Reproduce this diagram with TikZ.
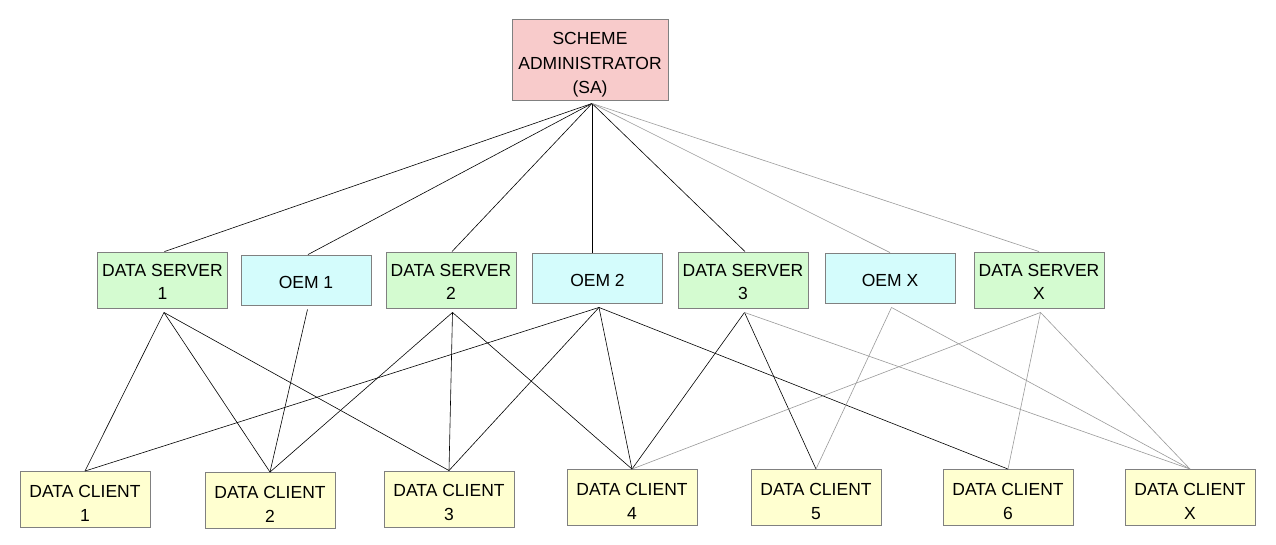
\documentclass[tikz,border=0pt]{standalone}
\usepackage{fontspec}
\setmainfont{Liberation Sans}
\definecolor{sapink}{HTML}{F8CBCB}
\definecolor{dsgreen}{HTML}{D4FBD0}
\definecolor{oemcyan}{HTML}{D4FCFC}
\definecolor{dcyellow}{HTML}{FFFFD0}
\definecolor{boxline}{HTML}{808080}
\definecolor{greyline}{HTML}{9A9A9A}
\begin{document}
\begin{tikzpicture}[x=1pt,y=-1pt,
  box/.style={draw=boxline,line width=0.9pt,rectangle,inner sep=0pt,minimum width=130pt},
  txt/.style={align=center,inner sep=0pt,font=\fontsize{17.5}{24}\selectfont},
  dstxt/.style={txt,font=\fontsize{17.5}{23}\selectfont},
  satxt/.style={txt,font=\fontsize{17.5}{24.5}\selectfont},
  sabox/.style={box,fill=sapink,minimum width=156pt,minimum height=81pt},
  dsbox/.style={box,fill=dsgreen,minimum height=56pt},
  oembox/.style={box,fill=oemcyan,minimum height=50pt},
  dcbox/.style={box,fill=dcyellow,minimum height=56pt},
  link/.style={draw=black,line width=0.6pt},
  glink/.style={draw=greyline,line width=0.6pt}]
\useasboundingbox[fill=white] (0,0) rectangle (1276,544);
% boxes
\node[sabox] (sa) at (590,59.5) {};
\node[satxt] (satext) at ([yshift=-5.5pt]sa.center) {SCHEME\\ADMINISTRATOR\\(SA)};
\foreach \n/\x/\y/\t in {ds1/162.5/280/{DATA SERVER\\1},ds2/451/280/{DATA SERVER\\2},
    ds3/743/280/{DATA SERVER\\3},dsx/1039/280/{DATA SERVER\\X}}{
  \node[dsbox] (\n) at (\x,\y) {};
  \node[dstxt] (\n text) at ([yshift=-1.5pt]\n.center) {\t};
}
\foreach \n/\x/\y/\t in {oem1/306/280/{OEM 1},oem2/597.5/278/{OEM 2},oemx/890/278/{OEM X}}{
  \node[oembox] (\n) at (\x,\y) {};
  \node[txt] (\n text) at ([yshift=-2pt]\n.center) {\t};
}
\foreach \n/\x/\y/\t in {dc1/85/499.5/{DATA CLIENT\\1},dc2/270/500.5/{DATA CLIENT\\2},
    dc3/449/499/{DATA CLIENT\\3},dc4/632/497.5/{DATA CLIENT\\4},dc5/816/497.5/{DATA CLIENT\\5},
    dc6/1008/497.5/{DATA CLIENT\\6},dcx/1190/497.5/{DATA CLIENT\\X}}{
  \node[dcbox] (\n) at (\x,\y) {};
  \node[txt] (\n text) at ([yshift=-3.5pt]\n.center) {\t};
}
% connection points
\coordinate (sab) at ([xshift=2pt,yshift=-3pt]sa.south);
\coordinate (oem2t) at ([xshift=-5.5pt]oem2.north);
\foreach \n in {ds1,oem1,ds2,oem2,ds3,oemx,dsx}{
  \coordinate (\n b) at ([xshift=1.5pt,yshift=-4pt]\n.south);
}
% SA to middle row
\draw[link] (sab) -- ([xshift=2pt]ds1.north);
\draw[link] (sab) -- ([xshift=2pt]oem1.north);
\draw[link] (sab) -- ([xshift=1pt]ds2.north);
\draw[link] (sab) -- (oem2t);
\draw[link] (sab) -- ([xshift=2pt]ds3.north);
\draw[glink] (sab) -- (oemx.north);
\draw[glink] (sab) -- (dsx.north);
% middle row to clients
\draw[link] (ds1b) -- (dc1.north);
\draw[link] (ds1b) -- (dc2.north);
\draw[link] (ds1b) -- (dc3.north);
\draw[link] (oem1b) -- (dc2.north);
\draw[link] (ds2b) -- (dc2.north);
\draw[link] (ds2b) -- (dc3.north);
\draw[link] (ds2b) -- (dc4.north);
\draw[link] (oem2b) -- (dc1.north);
\draw[link] (oem2b) -- (dc3.north);
\draw[link] (oem2b) -- (dc4.north);
\draw[link] (oem2b) -- (dc6.north);
\draw[link] (ds3b) -- (dc4.north);
\draw[link] (ds3b) -- (dc5.north);
\draw[glink] (ds3b) -- (dcx.north);
\draw[glink] (oemxb) -- (dc5.north);
\draw[glink] (oemxb) -- (dcx.north);
\draw[glink] (dsxb) -- (dc4.north);
\draw[glink] (dsxb) -- (dc6.north);
\draw[glink] (dsxb) -- (dcx.north);
\end{tikzpicture}
\end{document}
